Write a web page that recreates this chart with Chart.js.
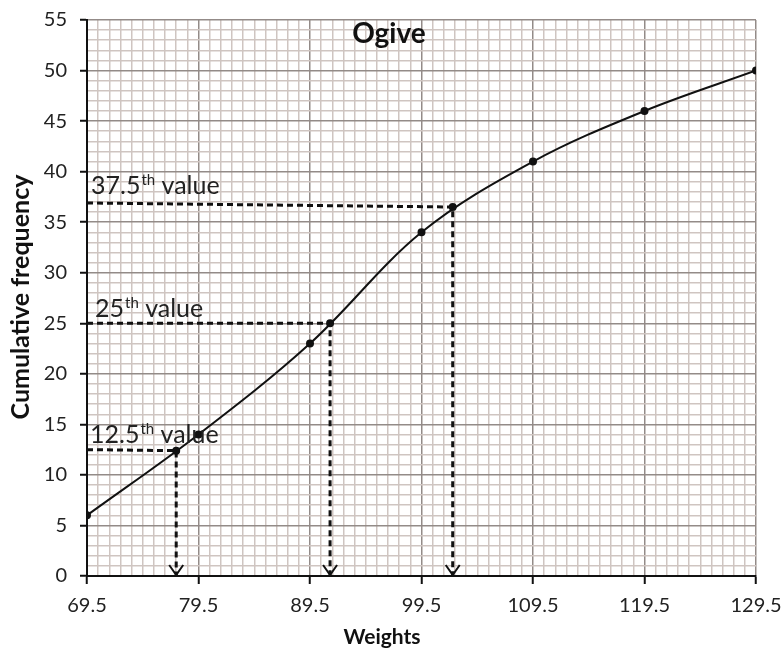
<!DOCTYPE html>
<html>
<head>
<meta charset="utf-8">
<script src="https://cdn.jsdelivr.net/npm/chart.js@4.4.0/dist/chart.umd.min.js"></script>
<style>
  body { margin: 0; background: #fff; }
  canvas { display: block; }
</style>
</head>
<body>
<canvas id="chart_div" width="783" height="652"></canvas>
<script>
// ogive data
const weights = [69.5, 79.5, 89.5, 99.5, 109.5, 119.5, 129.5];
const cumFreq = [6, 14, 23, 34, 41, 46, 50];

// quartile guide lines
const guideNames = ['12.5', '25', '37.5'];
const guideX = [77.5, 91.3, 102.3];
const guideStartY = [12.5, 25, 36.9];
const guideEndY = [12.4, 25, 36.5];

const xMin = 69.5, xMax = 129.5;
const yMin = 0, yMax = 55;

const FONT = 'Lato, "Open Sans", sans-serif';
const minorCol = '#cfc5c1';
const majorCol = '#938b88';

function isMajorX(v) {
  const r = Math.abs((v - xMin) % 10);
  return r < 1e-6 || Math.abs(r - 10) < 1e-6;
}
function isMajorY(v) {
  return Math.abs(v % 5) < 1e-6;
}

const datasets = [{
  label: 'Ogive',
  data: weights.map((w, i) => ({ x: w, y: cumFreq[i] })),
  borderColor: '#111',
  backgroundColor: '#111',
  borderWidth: 2,
  pointRadius: 3,
  pointHoverRadius: 3,
  tension: 0.35,
  order: 0
}];

guideNames.forEach((n, i) => {
  datasets.push({
    label: n,
    data: [
      { x: xMin, y: guideStartY[i] },
      { x: guideX[i], y: guideEndY[i] },
      { x: guideX[i], y: 0 }
    ],
    borderColor: '#111',
    backgroundColor: '#111',
    borderWidth: 3,
    borderDash: [6, 4],
    pointRadius: [0, 2.5, 0],
    tension: 0,
    order: 1
  });
});

const textPlugin = {
  id: 'texts',
  afterDatasetsDraw(chart) {
    const c = chart.ctx;
    const xs = chart.scales.x, ys = chart.scales.y;
    c.save();
    c.fillStyle = '#222';
    c.strokeStyle = '#111';

    // arrow heads on the x axis
    c.lineWidth = 2;
    guideX.forEach(gx => {
      const px = xs.getPixelForValue(gx);
      const py = ys.getPixelForValue(0);
      c.beginPath();
      c.moveTo(px - 7, py - 11);
      c.lineTo(px, py - 1);
      c.lineTo(px + 7, py - 11);
      c.stroke();
    });

    // "nth value" labels
    const lx = [3, 8, 4];
    const lift = [7, 6, 9];
    guideNames.forEach((n, i) => {
      let x = xs.left + lx[i];
      const y = ys.getPixelForValue(guideStartY[i]) - lift[i];
      c.textBaseline = 'alphabetic';
      c.textAlign = 'left';
      c.font = '25px ' + FONT;
      c.fillText(n, x, y);
      x += c.measureText(n).width + 1;
      c.font = '15px ' + FONT;
      c.fillText('th', x, y - 9);
      x += c.measureText('th').width;
      c.font = '25px ' + FONT;
      c.fillText(' value', x, y);
    });

    // title and axis titles
    c.fillStyle = '#111';
    c.textAlign = 'center';
    c.font = 'bold 28px ' + FONT;
    c.fillText('Ogive', 389, 43);
    c.font = 'bold 21px ' + FONT;
    c.fillText('Weights', 382, 644);
    c.translate(29, 297);
    c.rotate(-Math.PI / 2);
    c.font = 'bold 25px ' + FONT;
    c.fillText('Cumulative frequency', 0, 0);
    c.restore();
  }
};

new Chart(document.getElementById('chart_div'), {
  type: 'line',
  data: { datasets: datasets },
  plugins: [textPlugin],
  options: {
    responsive: false,
    animation: false,
    layout: { padding: { top: 20, right: 27, left: 0, bottom: 0 } },
    plugins: {
      legend: { display: false },
      tooltip: { enabled: false },
      title: { display: false }
    },
    scales: {
      x: {
        type: 'linear',
        min: xMin,
        max: xMax,
        afterFit: s => {
          s.height = 76;
          s.paddingLeft = 0;
          s.paddingRight = 0;
        },
        ticks: {
          stepSize: 1,
          autoSkip: false,
          maxRotation: 0,
          padding: 10,
          color: '#222',
          font: { family: FONT, size: 20 },
          callback: v => isMajorX(v) ? v.toFixed(1) : ''
        },
        grid: {
          color: ctx => isMajorX(ctx.tick.value) ? majorCol : minorCol,
          lineWidth: 1.5,
          tickLength: 8,
          tickWidth: 2,
          tickColor: ctx => isMajorX(ctx.tick.value) ? '#111' : 'rgba(0,0,0,0)'
        },
        border: { color: '#111', width: 2 }
      },
      y: {
        min: yMin,
        max: yMax,
        afterFit: s => {
          s.width = 87;
          s.paddingTop = 0;
          s.paddingBottom = 0;
        },
        ticks: {
          stepSize: 1,
          autoSkip: false,
          padding: 13,
          color: '#222',
          font: { family: FONT, size: 20 },
          callback: v => isMajorY(v) ? String(v) : ''
        },
        grid: {
          color: ctx => isMajorY(ctx.tick.value) ? majorCol : minorCol,
          lineWidth: 1.5,
          tickLength: 7,
          tickWidth: 2,
          tickColor: ctx => isMajorY(ctx.tick.value) ? '#111' : 'rgba(0,0,0,0)'
        },
        border: { color: '#111', width: 2 }
      }
    }
  }
});
</script>
</body>
</html>
